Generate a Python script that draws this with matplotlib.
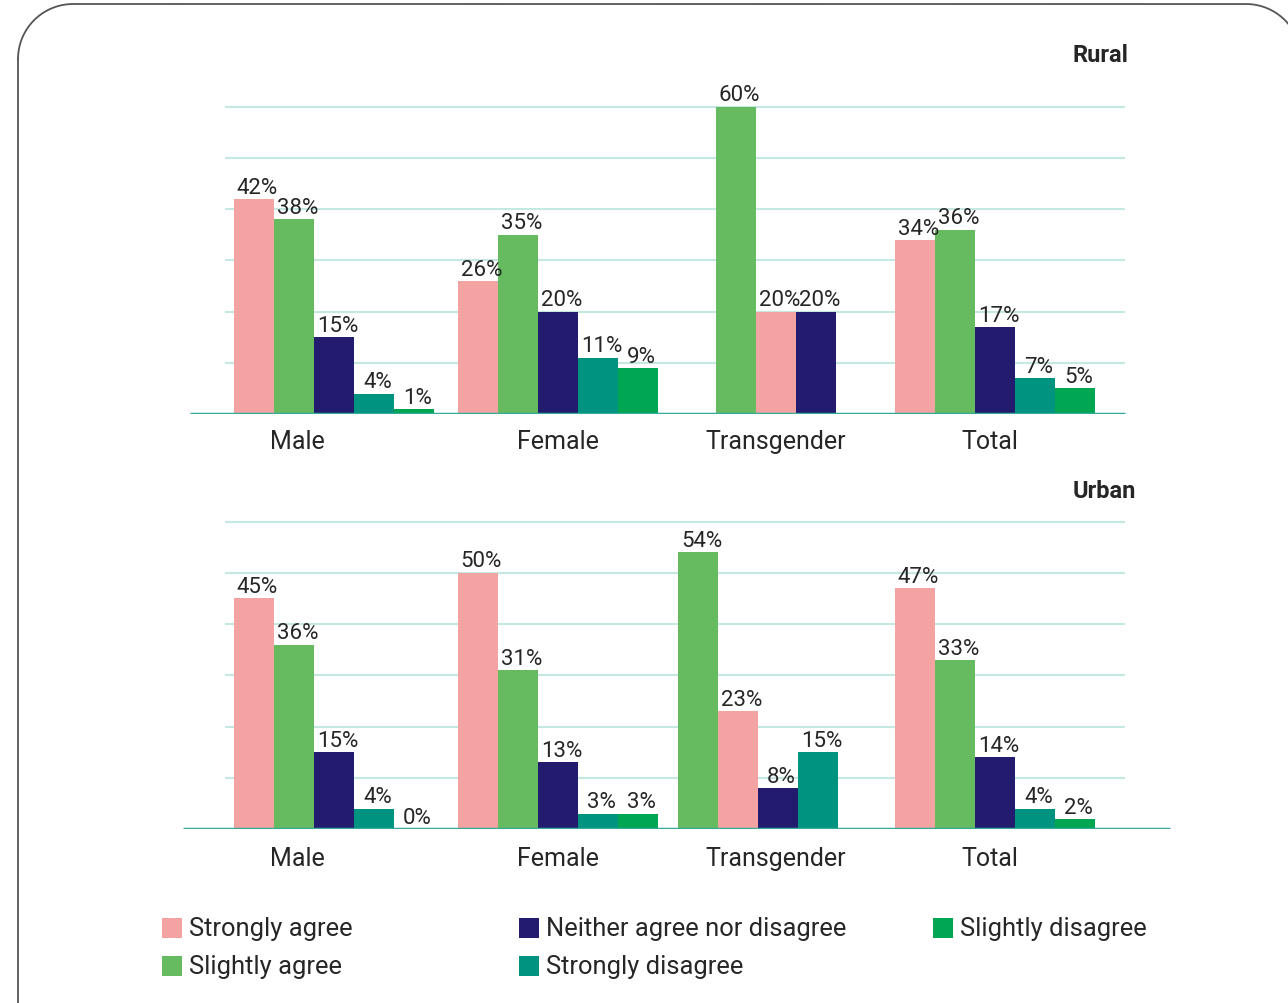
import numpy as np
import matplotlib
matplotlib.use("Agg")
import matplotlib.pyplot as plt
from matplotlib.patches import Rectangle

plt.rcParams["font.family"] = ["Roboto", "DejaVu Sans"]

# ---- data -------------------------------------------------------------
groups = ["Male", "Female", "Transgender", "Total"]
series = ["Strongly agree", "Slightly agree", "Neither agree nor disagree",
          "Strongly disagree", "Slightly disagree"]
series_colors = ["#F4A3A3", "#66BB60", "#231C6E", "#009380", "#00A651"]

rural_strongly_agree = [42, 26, 20, 34]
rural_slightly_agree = [38, 35, 60, 36]
rural_neither = [15, 20, 20, 17]
rural_strongly_disagree = [4, 11, None, 7]
rural_slightly_disagree = [1, 9, None, 5]

urban_strongly_agree = [45, 50, 23, 47]
urban_slightly_agree = [36, 31, 54, 33]
urban_neither = [15, 13, 8, 14]
urban_strongly_disagree = [4, 3, 15, 4]
urban_slightly_disagree = [0, 3, None, 2]

rural = [rural_strongly_agree, rural_slightly_agree, rural_neither,
         rural_strongly_disagree, rural_slightly_disagree]
urban = [urban_strongly_agree, urban_slightly_agree, urban_neither,
         urban_strongly_disagree, urban_slightly_disagree]

# order in which the series' bars appear inside each group
bar_order = [[0, 1, 2, 3, 4], [0, 1, 2, 3, 4], [1, 0, 2, 3, 4], [0, 1, 2, 3, 4]]

# ---- layout (x in bar widths, one bar = 40 px) -------------------------
W, H, DPI = 12.88, 10.04, 100
WPX, HPX = W * DPI, H * DPI
BAR_PX = 40.0
X_MAX = WPX / BAR_PX
PX_PER_PCT = 5.125
Y_MAX = 70

panels = [
    dict(name="Rural", data=rural, base_px=415,
         starts=[234, 458, 716, 895], label_x=[297, 558, 776, 990],
         axis_span=(190, 1125), title_xy=(1128, 55), label_off=34),
    dict(name="Urban", data=urban, base_px=830,
         starts=[234, 458, 678, 895], label_x=[297, 558, 776, 990],
         axis_span=(183, 1170), title_xy=(1136, 491), label_off=36),
]
GRID_SPAN = (225, 1125)

TEXT = "#262626"
GRID = "#C6E8E3"
BASE = "#35A99A"

fig = plt.figure(figsize=(W, H), dpi=DPI)

# rounded outer frame drawn in pixel units on a full-canvas overlay
bg = fig.add_axes([0, 0, 1, 1], zorder=-1)
bg.set_xlim(0, WPX)
bg.set_ylim(HPX, 0)
bg.axis("off")
L, T, R, B, RAD = 18, 5, 1301, 1060, 55


def arc(cx, cy, a0, a1):
    t = np.radians(np.linspace(a0, a1, 40))
    return cx + RAD * np.cos(t), cy - RAD * np.sin(t)


xs, ys = [], []
for cx, cy, a0, a1 in [(L + RAD, T + RAD, 180, 90), (R - RAD, T + RAD, 90, 0),
                       (R - RAD, B - RAD, 0, -90), (L + RAD, B - RAD, -90, -180)]:
    ax_, ay_ = arc(cx, cy, a0, a1)
    xs.extend(ax_)
    ys.extend(ay_)
xs.append(xs[0])
ys.append(ys[0])
bg.plot(xs, ys, color="#555555", linewidth=1.3, solid_capstyle="round")

for p in panels:
    height_px = Y_MAX * PX_PER_PCT
    ax = fig.add_axes([0, 1 - p["base_px"] / HPX, 1, height_px / HPX])
    ax.set_xlim(0, X_MAX)
    ax.set_ylim(0, Y_MAX)
    ax.axis("off")

    ax.hlines([10, 20, 30, 40, 50, 60], GRID_SPAN[0] / BAR_PX, GRID_SPAN[1] / BAR_PX,
              colors=GRID, linewidth=1.5, zorder=0)
    ax.hlines(0, p["axis_span"][0] / BAR_PX, p["axis_span"][1] / BAR_PX,
              colors=BASE, linewidth=2.5, zorder=3)

    for g, gname in enumerate(groups):
        pos = p["starts"][g] / BAR_PX
        for s in bar_order[g]:
            v = p["data"][s][g]
            if v is None:
                continue
            xc = pos + 0.5
            ax.bar(xc, v, width=1.0, color=series_colors[s], linewidth=0, zorder=2)
            ax.annotate(f"{v}%", (xc, v), xytext=(2.5, 4.5), textcoords="offset points",
                        ha="center", va="baseline", fontsize=16, color=TEXT)
            pos += 1.0
        ax.annotate(gname, (p["label_x"][g] / BAR_PX, 0),
                    xytext=(0, -p["label_off"] * 72 / DPI), textcoords="offset points",
                    ha="center", va="baseline", fontsize=18, color=TEXT)

    tx, ty = p["title_xy"]
    fig.text(tx / WPX, 1 - ty / HPX, p["name"], ha="right", va="center",
             fontsize=17, fontweight="bold", color=TEXT)

# legend, three columns filled top to bottom
legend_cols = [(162, [0, 1]), (519, [2, 3]), (933, [4])]
row_y = [929, 967]
for col_x, items in legend_cols:
    for r, s in enumerate(items):
        yc = row_y[r]
        fig.add_artist(Rectangle((col_x / WPX, 1 - (yc + 10) / HPX),
                                 20 / WPX, 20 / HPX,
                                 transform=fig.transFigure, color=series_colors[s],
                                 linewidth=0))
        fig.text((col_x + 27) / WPX, 1 - yc / HPX, series[s],
                 ha="left", va="center", fontsize=18.4, color=TEXT)

fig.savefig("out.png", dpi=DPI)
